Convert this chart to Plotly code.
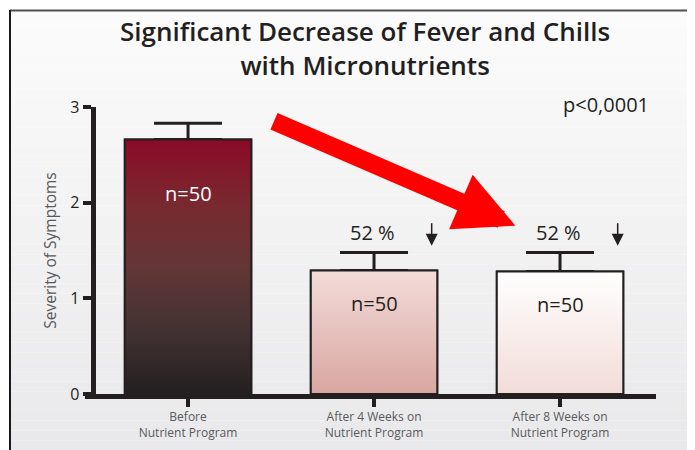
import plotly.graph_objects as go

# --- chart data ---
categories = ["Before<br>Nutrient Program",
              "After 4 Weeks on<br>Nutrient Program",
              "After 8 Weeks on<br>Nutrient Program"]
severity = [2.66, 1.29, 1.28]
sem = [0.17, 0.19, 0.20]
n_labels = ["n=50", "n=50", "n=50"]
decrease_labels = ["", "52 %", "52 %"]
p_value = "p<0,0001"

# vertical gradients for the bars (bottom -> top)
bar_scales = [
    [[0, "#231f20"], [0.25, "#433233"], [0.5, "#633636"], [0.75, "#78292f"], [1, "#8b0a28"]],
    [[0, "#d9a6a1"], [1, "#f3dcd9"]],
    [[0, "#f2dcd8"], [1, "#ffffff"]],
]
n_colors = ["white", "#231f20", "#231f20"]

# the page puts the figure 8px in from the window corner
OFF = 8
W, H = 695 - OFF, 450 - OFF
ML, MR, MT, MB = 85 - OFF, 39, 107 - OFF, 56
FONT = "Open Sans"
DARK = "#231f20"

def px_x(p):
    return (p - OFF - ML) / (W - ML - MR)

def px_y(p):
    return (H - MB - (p - OFF)) / (H - MT - MB)

x_pos = list(range(len(categories)))
bw = 0.68

fig = go.Figure()
fig.add_trace(go.Bar(
    x=x_pos, y=severity, width=bw,
    marker=dict(color=[s[0][1] for s in bar_scales], line=dict(color=DARK, width=2)),
    error_y=dict(type="data", symmetric=False, array=sem, arrayminus=[0] * len(sem),
                 color=DARK, thickness=3, width=34),
    showlegend=False))

# gradient fills on top of the bars
for i, (v, cs) in enumerate(zip(severity, bar_scales)):
    fig.add_trace(go.Scatter(
        x=[i - bw / 2, i - bw / 2, i + bw / 2, i + bw / 2, i - bw / 2],
        y=[0, v, v, 0, 0], mode="lines", fill="toself",
        fillgradient=dict(type="vertical", colorscale=cs, start=0, stop=v),
        line=dict(color=DARK, width=2), hoverinfo="skip", showlegend=False))

annotations = []
for i, v in enumerate(severity):
    off = 0.56 if i == 0 else 0.34
    annotations.append(dict(x=i, y=v - off, text=n_labels[i], showarrow=False,
                            font=dict(family=FONT, size=20, color=n_colors[i])))
    if decrease_labels[i]:
        annotations.append(dict(x=i - 0.01, y=v + sem[i] + 0.21, text=decrease_labels[i],
                                showarrow=False, font=dict(family=FONT, size=20, color=DARK)))
        annotations.append(dict(x=i + 0.31, y=1.55, ax=i + 0.31, ay=1.80,
                                axref="x", ayref="y", text="", showarrow=True,
                                arrowhead=2, arrowsize=1.6, arrowwidth=1.5, arrowcolor=DARK))

# big red arrow
annotations.append(dict(x=1.76, y=1.76, ax=0.454, ay=2.859, axref="x", ayref="y",
                        text="", showarrow=True, arrowhead=2, arrowsize=0.66,
                        arrowwidth=18, arrowcolor="#ff0000", standoff=0))
annotations.append(dict(x=px_x(606), y=px_y(104), xref="paper", yref="paper",
                        xanchor="center", yanchor="middle",
                        text=p_value, showarrow=False,
                        font=dict(family=FONT, size=20, color=DARK)))
# title
annotations.append(dict(x=px_x(365), y=px_y(48), xref="paper", yref="paper",
                        xanchor="center", yanchor="middle", showarrow=False,
                        text="Significant Decrease of Fever and Chills<br>with Micronutrients",
                        font=dict(family=FONT, size=26, color=DARK, weight=600)))

# soft vertical background gradient and the frame lines
shapes = []
n_bands = 45
top_c, bot_c = (251, 251, 251), (233, 233, 235)
for k in range(n_bands):
    t = k / (n_bands - 1)
    c = tuple(round(a + (b - a) * t) for a, b in zip(top_c, bot_c))
    shapes.append(dict(type="rect", xref="paper", yref="paper", layer="below",
                       x0=px_x(10), x1=px_x(700), y0=px_y(10 + 440 * k / n_bands),
                       y1=px_y(10 + 440 * (k + 1) / n_bands),
                       fillcolor="rgb(%d,%d,%d)" % c, line=dict(width=0)))
shapes.append(dict(type="line", xref="paper", yref="paper", x0=px_x(10), x1=px_x(700),
                   y0=px_y(10.5), y1=px_y(10.5), line=dict(color="#505050", width=2)))
shapes.append(dict(type="line", xref="paper", yref="paper", x0=px_x(10), x1=px_x(10),
                   y0=px_y(10), y1=px_y(452), line=dict(color="#1a1a1a", width=2)))

fig.update_layout(
    width=W, height=H,
    margin=dict(l=ML, r=MR, t=MT, b=MB),
    paper_bgcolor="white", plot_bgcolor="rgba(0,0,0,0)",
    font=dict(family=FONT, color=DARK),
    annotations=annotations, shapes=shapes,
    xaxis=dict(range=[-0.554, 2.516], tickvals=x_pos, ticktext=categories,
               showline=True, linecolor=DARK, linewidth=5, ticks="outside",
               ticklen=8, tickwidth=4, tickcolor=DARK, showgrid=False, zeroline=False,
               tickfont=dict(family=FONT, size=12, color="#58595b"), automargin=False),
    yaxis=dict(range=[0, 3], tickvals=[0, 1, 2, 3], anchor="free", position=px_x(92.5),
               showline=True, linecolor=DARK, linewidth=5, ticks="outside",
               ticklen=8, tickwidth=4, tickcolor=DARK, showgrid=False, zeroline=False,
               tickfont=dict(family=FONT, size=16, color=DARK), automargin=False,
               title=dict(text="Severity of Symptoms", standoff=8,
                          font=dict(family=FONT, size=15.5, color="#58595b"))),
)

fig.write_html("out.html")
